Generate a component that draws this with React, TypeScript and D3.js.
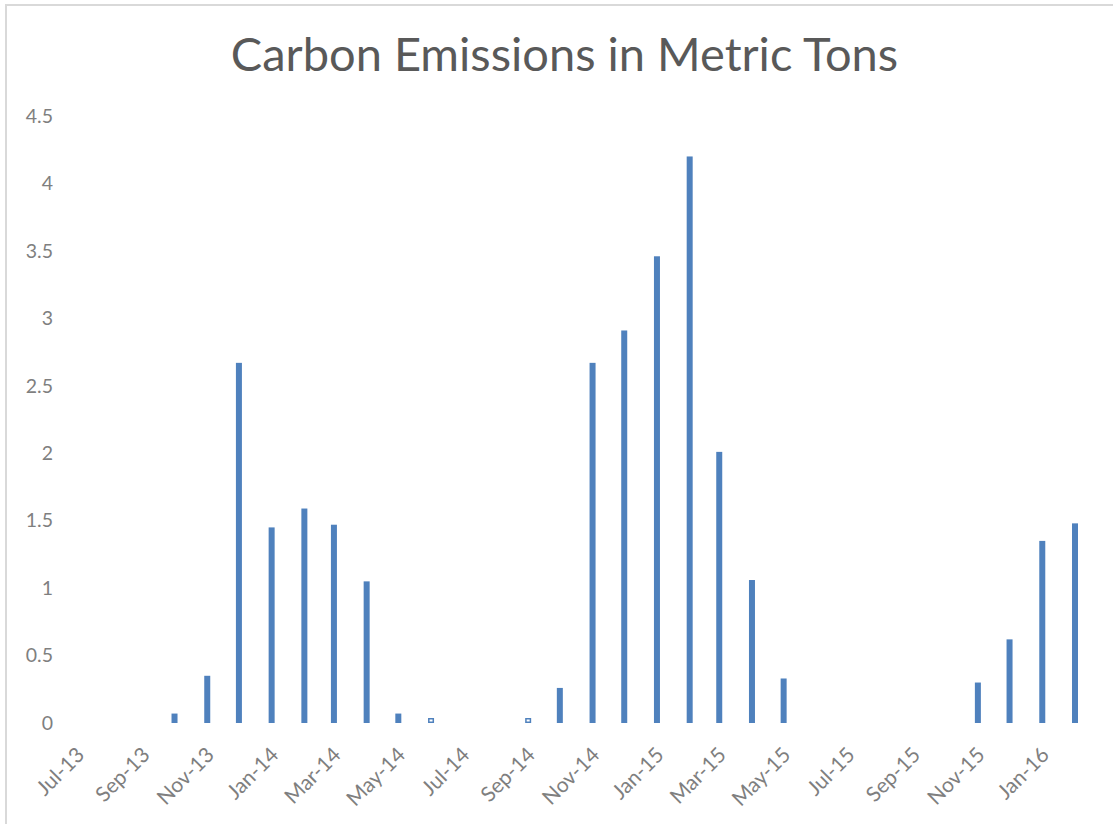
import React from "react";
import * as d3 from "d3";

const months: string[] = [
  "2013-07", "2013-08", "2013-09", "2013-10", "2013-11", "2013-12",
  "2014-01", "2014-02", "2014-03", "2014-04", "2014-05", "2014-06",
  "2014-07", "2014-08", "2014-09", "2014-10", "2014-11", "2014-12",
  "2015-01", "2015-02", "2015-03", "2015-04", "2015-05", "2015-06",
  "2015-07", "2015-08", "2015-09", "2015-10", "2015-11", "2015-12",
  "2016-01", "2016-02",
];
const emissions: (number | null)[] = [
  null, null, null, 0.07, 0.35, 2.67,
  1.45, 1.59, 1.47, 1.05, 0.07, 0.02,
  null, null, 0.02, 0.26, 2.67, 2.91,
  3.46, 4.2, 2.01, 1.06, 0.33, null,
  null, null, null, null, 0.3, 0.62,
  1.35, 1.48,
];
const yTicks: number[] = [0, 0.5, 1, 1.5, 2, 2.5, 3, 3.5, 4, 4.5];
const xTickMonths: string[] = [
  "2013-07", "2013-09", "2013-11", "2014-01", "2014-03", "2014-05",
  "2014-07", "2014-09", "2014-11", "2015-01", "2015-03", "2015-05",
  "2015-07", "2015-09", "2015-11", "2016-01",
];
const title = "Carbon Emissions in Metric Tons";

const W = 1113;
const H = 824;
const parseMonth = (s: string) => {
  const [y, m] = s.split("-").map(Number);
  return new Date(y, m - 1, 1);
};
const fmt = d3.timeFormat("%b-%y");
const FONT = "Lato, 'Open Sans', sans-serif";

export default function App() {
  const x = d3
    .scaleTime()
    .domain([parseMonth("2013-07"), parseMonth("2016-02")])
    .range([77.4, 1075]);
  const y = d3.scaleLinear().domain([0, 4.5]).range([723, 116]);
  const barW = 6;
  const color = "#4F81BD";

  return (
    <svg
      width={W}
      height={H}
      style={{ position: "absolute", left: 0, top: 0, background: "#fff" }}
    >
      <rect x={0} y={0} width={W} height={H} fill="#fff" />
      <rect x={6} y={5} width={1300} height={1000} fill="none" stroke="#d9d9d9" strokeWidth={2} />
      <text
        x={564.5}
        y={71}
        textAnchor="middle"
        fontFamily={FONT}
        fontSize={47}
        fill="#595959"
      >
        {title}
      </text>
      {yTicks.map((t) => (
        <text
          key={t}
          x={53}
          y={y(t)}
          dy="0.35em"
          textAnchor="end"
          fontFamily={FONT}
          fontSize={19.5}
          fill="#7f7f7f"
        >
          {String(t)}
        </text>
      ))}
      {xTickMonths.map((m) => {
        const px = x(parseMonth(m));
        return (
          <text
            key={m}
            transform={`translate(${px + 3},${751}) rotate(-45)`}
            dy="0.35em"
            textAnchor="end"
            fontFamily={FONT}
            fontSize={21}
            fill="#7f7f7f"
          >
            {fmt(parseMonth(m))}
          </text>
        );
      })}
      {months.map((m, i) => {
        const v = emissions[i];
        if (v == null) return null;
        const cx = x(parseMonth(m));
        const top = y(v);
        const h = y(0) - top;
        if (h < 5) {
          return (
            <rect
              key={m}
              x={cx - barW / 2 + 0.75}
              y={y(0) - 5 + 0.75}
              width={barW - 1.5}
              height={5 - 1.5}
              fill="#fff"
              stroke={color}
              strokeWidth={1.5}
            />
          );
        }
        return (
          <rect key={m} x={cx - barW / 2} y={top} width={barW} height={h} fill={color} />
        );
      })}
    </svg>
  );
}
